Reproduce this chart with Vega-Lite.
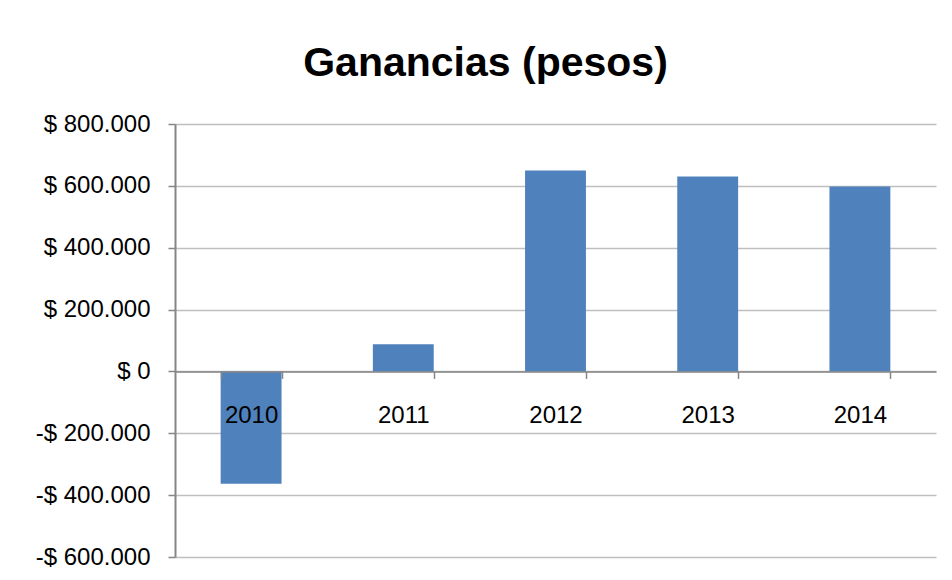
{
  "$schema": "https://vega.github.io/schema/vega-lite/v6.json",
  "autosize": "none",
  "width": 761,
  "height": 433,
  "padding": {"left": 175, "top": 124, "right": 16, "bottom": 23},
  "background": "white",
  "title": {
    "text": "Ganancias (pesos)",
    "font": "Liberation Sans",
    "fontSize": 41,
    "fontWeight": "bold",
    "color": "#000000",
    "anchor": "middle",
    "baseline": "alphabetic",
    "dx": -70,
    "offset": -5
  },
  "data": {
    "values": [
      {"year": "2010", "ganancia": -363000},
      {"year": "2011", "ganancia": 88000},
      {"year": "2012", "ganancia": 650000},
      {"year": "2013", "ganancia": 630000},
      {"year": "2014", "ganancia": 598000}
    ]
  },
  "mark": {"type": "bar", "color": "#4F81BD"},
  "encoding": {
    "x": {
      "field": "year",
      "type": "ordinal",
      "scale": {"paddingInner": 0.6, "paddingOuter": 0.3},
      "axis": {
        "title": null,
        "labelAngle": 0,
        "labelFont": "Liberation Sans",
        "labelFontSize": 24,
        "labelColor": "#000000",
        "labelPadding": 25,
        "tickBand": "extent",
        "tickSize": 7,
        "tickColor": "#868686",
        "tickWidth": 1.5,
        "domainColor": "#868686",
        "domainWidth": 1.5,
        "offset": -185.6,
        "zindex": 1
      }
    },
    "y": {
      "field": "ganancia",
      "type": "quantitative",
      "scale": {"domain": [-600000, 800000], "nice": false, "zero": true},
      "axis": {
        "title": null,
        "values": [-600000, -400000, -200000, 0, 200000, 400000, 600000, 800000],
        "labelExpr": "(datum.value < 0 ? '-' : '') + '$ ' + replace(format(abs(datum.value), ','), ',', '.')",
        "labelFont": "Liberation Sans",
        "labelFontSize": 24,
        "labelColor": "#000000",
        "labelPadding": 18,
        "tickSize": 7,
        "tickColor": "#868686",
        "tickWidth": 1.5,
        "domainColor": "#868686",
        "domainWidth": 2,
        "gridColor": "#BFBFBF",
        "gridWidth": 1.5
      }
    }
  },
  "config": {"view": {"stroke": null}}
}
